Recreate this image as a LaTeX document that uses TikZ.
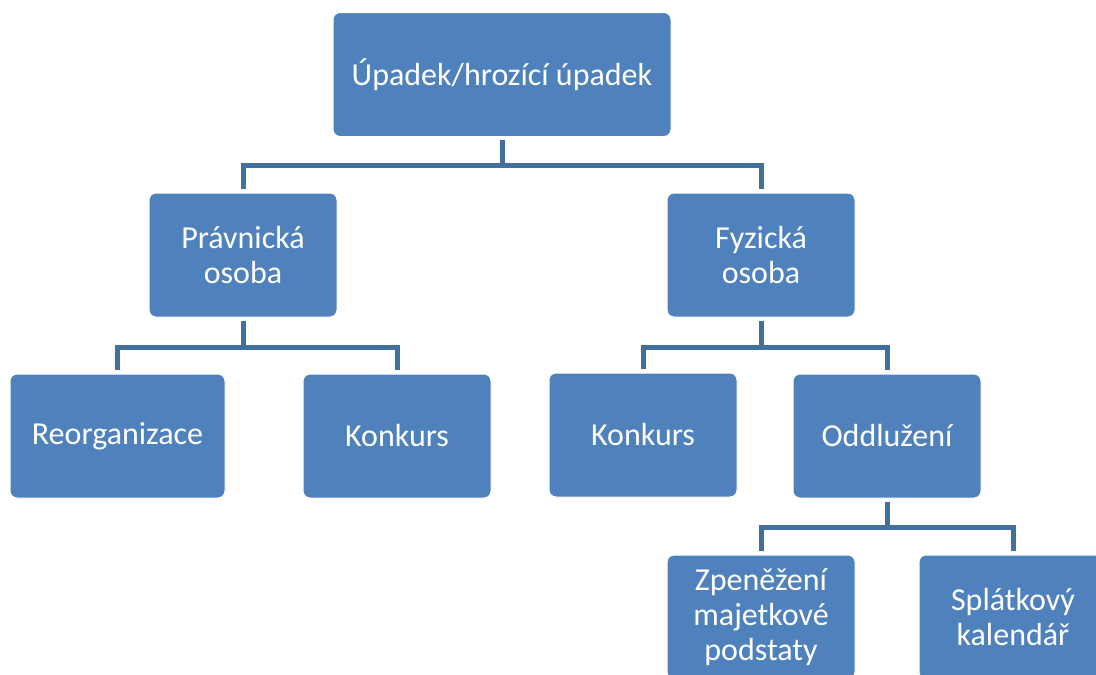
\documentclass[tikz,border=0pt]{standalone}
\usepackage{fontspec}
\setmainfont{Carlito}
\definecolor{boxblue}{HTML}{4F81BD}
\definecolor{linkblue}{HTML}{41709F}
\begin{document}
\begin{tikzpicture}[x=1pt,y=-1pt,
  orgbox/.style={rectangle, rounded corners=7pt, fill=boxblue, draw=white, line width=1pt,
    text=white, align=center, inner sep=0pt, minimum height=124pt,
    font=\fontsize{32}{35}\selectfont},
  link/.style={draw=linkblue, line width=5pt, shorten <=3pt, shorten >=4pt}]
\useasboundingbox (0,0) rectangle (1096,675);
\fill[white] (0,0) rectangle (1096,675);
\clip (0,0) rectangle (1096,675);
\node[orgbox, minimum width=338pt] (top) at (502,74.5) {Úpadek/hrozící úpadek};
\node[orgbox, minimum width=188pt] (prav) at (243,255) {Právnická\\osoba};
\node[orgbox, minimum width=188pt] (fyz) at (761,255) {Fyzická\\osoba};
\node[orgbox, minimum width=215pt] (reorg) at (117.5,436) {Reorganizace};
\node[orgbox, minimum width=188pt] (kon1) at (397,436) {Konkurs};
\node[orgbox, minimum width=188pt] (kon2) at (643,435) {Konkurs};
\node[orgbox, minimum width=188pt] (odd) at (887,436) {Oddlužení};
\node[orgbox, minimum width=188pt] (zpen) at (761,617) {Zpeněžení\\majetkové\\podstaty};
\node[orgbox, minimum width=188pt] (splat) at (1013,617) {Splátkový\\kalendář};
\coordinate (b1) at (502,165);
\coordinate (b2) at (243,347);
\coordinate (b3) at (761,347);
\coordinate (b4) at (887,527);
\path[link] (top.south) -- (b1) -| (prav.north);
\path[link] (top.south) -- (b1) -| (fyz.north);
\path[link] (prav.south) -- (b2) -| (reorg.north);
\path[link] (prav.south) -- (b2) -| (kon1.north);
\path[link] (fyz.south) -- (b3) -| (kon2.north);
\path[link] (fyz.south) -- (b3) -| (odd.north);
\path[link] (odd.south) -- (b4) -| (zpen.north);
\path[link] (odd.south) -- (b4) -| (splat.north);
\end{tikzpicture}
\end{document}
